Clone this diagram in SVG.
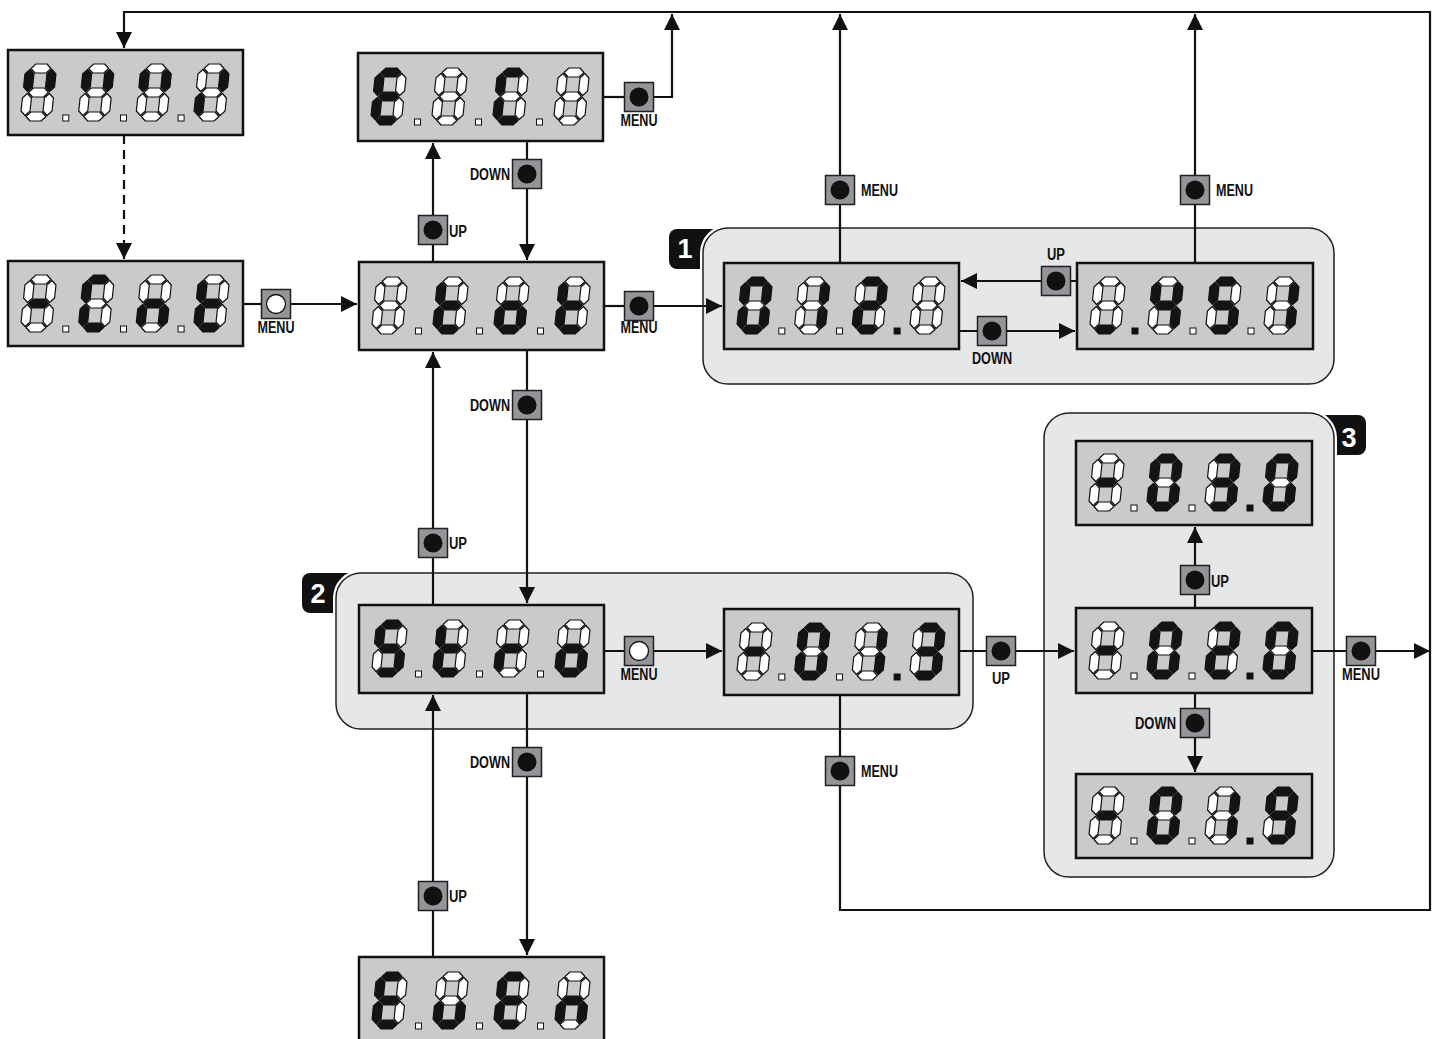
<svg xmlns="http://www.w3.org/2000/svg" xmlns:xlink="http://www.w3.org/1999/xlink" width="1437" height="1039" viewBox="0 0 1437 1039">
<style>
.disp{fill:#c9cacc;stroke:#111;stroke-width:2.5}
.panel{fill:#e6e7e8;stroke:#231f20;stroke-width:1.5}
.gap{fill:none;stroke:#fff;stroke-width:6}
.badge{fill:#111}
.bt{font-family:"Liberation Sans",Arial,sans-serif;font-weight:bold;font-size:27px;fill:#fff;text-anchor:middle}
.on{fill:#141414;stroke:#111;stroke-width:1.2;stroke-linejoin:round}
.off{fill:#fff;stroke:#111;stroke-width:1.2;stroke-linejoin:round}
.dpo{fill:#fff;stroke:#111;stroke-width:1}
.dpi{fill:#111;stroke:#111;stroke-width:1}
.btn{fill:#939598;stroke:#231f20;stroke-width:1.5}
.bk{fill:#111}
.wh{fill:#fff;stroke:#111;stroke-width:1.3}
.lbl{font-family:"Liberation Sans",Arial,sans-serif;font-weight:bold;font-size:16px;fill:#111}
.ln{fill:none;stroke:#111;stroke-width:2.2}
.dash{stroke-dasharray:9 6}
</style>
<defs>
<marker id="ah" markerUnits="userSpaceOnUse" viewBox="0 0 16 16" markerWidth="16" markerHeight="16" refX="16" refY="8" orient="auto"><path d="M0,0 L16,8 L0,16 z" fill="#111"/></marker>
<polygon id="sa" points="4.5,4.5 9,0 20,0 24.5,4.5 20,9 9,9"/>
<polygon id="sb" points="25.5,5.5 30,10 30,23 25.5,27.5 21,23 21,10"/>
<polygon id="sc" points="25.5,29.5 30,34 30,47 25.5,51.5 21,47 21,34"/>
<polygon id="sd" points="4.5,52.5 9,48 20,48 24.5,52.5 20,57 9,57"/>
<polygon id="se" points="3.5,29.5 8,34 8,47 3.5,51.5 -1,47 -1,34"/>
<polygon id="sf" points="3.5,5.5 8,10 8,23 3.5,27.5 -1,23 -1,10"/>
<polygon id="sg" points="4.5,28.5 9,24 20,24 24.5,28.5 20,33 9,33"/>
<g id="Gblank"><use href="#sa" class="off"/><use href="#sb" class="off"/><use href="#sc" class="off"/><use href="#sd" class="off"/><use href="#se" class="off"/><use href="#sf" class="off"/><use href="#sg" class="off"/></g>
<g id="Gdash"><use href="#sa" class="off"/><use href="#sb" class="off"/><use href="#sc" class="off"/><use href="#sd" class="off"/><use href="#se" class="off"/><use href="#sf" class="off"/><use href="#sg" class="on"/></g>
<g id="G0"><use href="#sa" class="on"/><use href="#sb" class="on"/><use href="#sc" class="on"/><use href="#sd" class="on"/><use href="#se" class="on"/><use href="#sf" class="on"/><use href="#sg" class="off"/></g>
<g id="G1"><use href="#sa" class="off"/><use href="#sb" class="on"/><use href="#sc" class="on"/><use href="#sd" class="off"/><use href="#se" class="off"/><use href="#sf" class="off"/><use href="#sg" class="off"/></g>
<g id="G2"><use href="#sa" class="on"/><use href="#sb" class="on"/><use href="#sc" class="off"/><use href="#sd" class="on"/><use href="#se" class="on"/><use href="#sf" class="off"/><use href="#sg" class="on"/></g>
<g id="G3"><use href="#sa" class="on"/><use href="#sb" class="on"/><use href="#sc" class="on"/><use href="#sd" class="on"/><use href="#se" class="off"/><use href="#sf" class="off"/><use href="#sg" class="on"/></g>
<g id="G4"><use href="#sa" class="off"/><use href="#sb" class="on"/><use href="#sc" class="on"/><use href="#sd" class="off"/><use href="#se" class="off"/><use href="#sf" class="on"/><use href="#sg" class="on"/></g>
<g id="G5"><use href="#sa" class="on"/><use href="#sb" class="off"/><use href="#sc" class="on"/><use href="#sd" class="on"/><use href="#se" class="off"/><use href="#sf" class="on"/><use href="#sg" class="on"/></g>
<g id="G9"><use href="#sa" class="on"/><use href="#sb" class="on"/><use href="#sc" class="on"/><use href="#sd" class="on"/><use href="#se" class="off"/><use href="#sf" class="on"/><use href="#sg" class="on"/></g>
<g id="GE"><use href="#sa" class="on"/><use href="#sb" class="off"/><use href="#sc" class="off"/><use href="#sd" class="on"/><use href="#se" class="on"/><use href="#sf" class="on"/><use href="#sg" class="on"/></g>
<g id="GC"><use href="#sa" class="on"/><use href="#sb" class="off"/><use href="#sc" class="off"/><use href="#sd" class="on"/><use href="#se" class="on"/><use href="#sf" class="on"/><use href="#sg" class="off"/></g>
<g id="Gt"><use href="#sa" class="off"/><use href="#sb" class="off"/><use href="#sc" class="off"/><use href="#sd" class="on"/><use href="#se" class="on"/><use href="#sf" class="on"/><use href="#sg" class="on"/></g>
<g id="Go"><use href="#sa" class="off"/><use href="#sb" class="off"/><use href="#sc" class="on"/><use href="#sd" class="on"/><use href="#se" class="on"/><use href="#sf" class="off"/><use href="#sg" class="on"/></g>
<g id="Gr"><use href="#sa" class="off"/><use href="#sb" class="off"/><use href="#sc" class="off"/><use href="#sd" class="off"/><use href="#se" class="on"/><use href="#sf" class="off"/><use href="#sg" class="on"/></g>
<g id="Gn"><use href="#sa" class="off"/><use href="#sb" class="off"/><use href="#sc" class="on"/><use href="#sd" class="off"/><use href="#se" class="on"/><use href="#sf" class="off"/><use href="#sg" class="on"/></g>
<g id="Gu"><use href="#sa" class="off"/><use href="#sb" class="off"/><use href="#sc" class="on"/><use href="#sd" class="on"/><use href="#se" class="on"/><use href="#sf" class="off"/><use href="#sg" class="off"/></g>
<g id="Gfb"><use href="#sa" class="off"/><use href="#sb" class="on"/><use href="#sc" class="off"/><use href="#sd" class="off"/><use href="#se" class="off"/><use href="#sf" class="on"/><use href="#sg" class="off"/></g>
<g id="Gbe"><use href="#sa" class="off"/><use href="#sb" class="on"/><use href="#sc" class="off"/><use href="#sd" class="off"/><use href="#se" class="on"/><use href="#sf" class="off"/><use href="#sg" class="off"/></g>
<g id="Gdd"><use href="#sa" class="off"/><use href="#sb" class="off"/><use href="#sc" class="off"/><use href="#sd" class="on"/><use href="#se" class="off"/><use href="#sf" class="off"/><use href="#sg" class="off"/></g>
</defs>

<g id="group-1">
<rect class="badge" x="669" y="229" width="56" height="40" rx="8"/>
<text class="bt" x="685" y="258">1</text>
<rect class="gap" x="703" y="228" width="631" height="156" rx="25"/>
<rect class="panel" x="703" y="228" width="631" height="156" rx="25"/>
</g>
<g id="group-2">
<rect class="badge" x="302" y="573" width="56" height="40" rx="8"/>
<text class="bt" x="318" y="603">2</text>
<rect class="gap" x="336" y="573" width="637" height="156" rx="25"/>
<rect class="panel" x="336" y="573" width="637" height="156" rx="25"/>
</g>
<g id="group-3">
<rect class="badge" x="1311" y="415" width="55" height="40" rx="8"/>
<text class="bt" x="1349" y="447">3</text>
<rect class="gap" x="1044" y="413" width="290" height="464" rx="25"/>
<rect class="panel" x="1044" y="413" width="290" height="464" rx="25"/>
</g>

<g id="connectors">
<path class="ln" d="M840,695 V910 H1430 V12 H124 V48" marker-end="url(#ah)"/>
<path class="ln dash" d="M124,135 V259" marker-end="url(#ah)"/>
<path class="ln" d="M603,97 H624"/>
<path class="ln" d="M654,97 H672 V14" marker-end="url(#ah)"/>
<path class="ln" d="M243,304 H262"/>
<path class="ln" d="M290,304 H357" marker-end="url(#ah)"/>
<path class="ln" d="M604,306 H624"/>
<path class="ln" d="M653,306 H722" marker-end="url(#ah)"/>
<path class="ln" d="M433,262 V143" marker-end="url(#ah)"/>
<path class="ln" d="M527,141 V260" marker-end="url(#ah)"/>
<path class="ln" d="M840,263 V14" marker-end="url(#ah)"/>
<path class="ln" d="M1195,263 V14" marker-end="url(#ah)"/>
<path class="ln" d="M1077,281 H961" marker-end="url(#ah)"/>
<path class="ln" d="M959,331 H1075" marker-end="url(#ah)"/>
<path class="ln" d="M527,350 V603" marker-end="url(#ah)"/>
<path class="ln" d="M433,605 V352" marker-end="url(#ah)"/>
<path class="ln" d="M604,651 H722" marker-end="url(#ah)"/>
<path class="ln" d="M959,651 H1074" marker-end="url(#ah)"/>
<path class="ln" d="M1195,608 V527" marker-end="url(#ah)"/>
<path class="ln" d="M1195,693 V772" marker-end="url(#ah)"/>
<path class="ln" d="M1312,651 H1430" marker-end="url(#ah)"/>
<path class="ln" d="M527,693 V955" marker-end="url(#ah)"/>
<path class="ln" d="M433,957 V695" marker-end="url(#ah)"/>
</g>

<g id="disp-1">
<rect class="disp" x="8" y="50" width="235" height="85"/>
<use href="#Gfb" transform="translate(27,64) skewX(-6)"/>
<use href="#Gfb" transform="translate(84.7,64) skewX(-6)"/>
<use href="#Gfb" transform="translate(142.3,64) skewX(-6)"/>
<use href="#Gbe" transform="translate(200,64) skewX(-6)"/>
<rect class="dpo" x="62.8" y="115" width="6" height="6"/><rect class="dpo" x="120.5" y="115" width="6" height="6"/><rect class="dpo" x="178.1" y="115" width="6" height="6"/>
</g>
<g id="disp-2">
<rect class="disp" x="358" y="53" width="245" height="88"/>
<use href="#GE" transform="translate(377,68) skewX(-6)"/>
<use href="#Gblank" transform="translate(438,68) skewX(-6)"/>
<use href="#GC" transform="translate(499,68) skewX(-6)"/>
<use href="#Gblank" transform="translate(560,68) skewX(-6)"/>
<rect class="dpo" x="414.5" y="119" width="6" height="6"/><rect class="dpo" x="475.5" y="119" width="6" height="6"/><rect class="dpo" x="536.5" y="119" width="6" height="6"/>
</g>
<g id="disp-3">
<rect class="disp" x="8" y="261" width="235" height="85"/>
<use href="#Gdash" transform="translate(27,275) skewX(-6)"/>
<use href="#GC" transform="translate(84.7,275) skewX(-6)"/>
<use href="#Gn" transform="translate(142.3,275) skewX(-6)"/>
<use href="#Gt" transform="translate(200,275) skewX(-6)"/>
<rect class="dpo" x="62.8" y="326" width="6" height="6"/><rect class="dpo" x="120.5" y="326" width="6" height="6"/><rect class="dpo" x="178.1" y="326" width="6" height="6"/>
</g>
<g id="disp-4">
<rect class="disp" x="359" y="262" width="245" height="88"/>
<use href="#Gblank" transform="translate(378,277) skewX(-6)"/>
<use href="#Gt" transform="translate(439,277) skewX(-6)"/>
<use href="#Go" transform="translate(500,277) skewX(-6)"/>
<use href="#Gt" transform="translate(561,277) skewX(-6)"/>
<rect class="dpo" x="415.5" y="328" width="6" height="6"/><rect class="dpo" x="476.5" y="328" width="6" height="6"/><rect class="dpo" x="537.5" y="328" width="6" height="6"/>
</g>
<g id="disp-5">
<rect class="disp" x="724" y="263" width="235" height="86"/>
<use href="#G0" transform="translate(743,277) skewX(-6)"/>
<use href="#G1" transform="translate(800.7,277) skewX(-6)"/>
<use href="#G2" transform="translate(858.3,277) skewX(-6)"/>
<use href="#Gblank" transform="translate(916,277) skewX(-6)"/>
<rect class="dpo" x="778.8" y="328" width="6" height="6"/><rect class="dpo" x="836.5" y="328" width="6" height="6"/><rect class="dpi" x="894.1" y="328" width="6" height="6"/>
</g>
<g id="disp-6">
<rect class="disp" x="1077" y="263" width="236" height="86"/>
<use href="#Gdd" transform="translate(1096,277) skewX(-6)"/>
<use href="#G4" transform="translate(1154,277) skewX(-6)"/>
<use href="#G5" transform="translate(1212,277) skewX(-6)"/>
<use href="#G1" transform="translate(1270,277) skewX(-6)"/>
<rect class="dpi" x="1132" y="328" width="6" height="6"/><rect class="dpo" x="1190" y="328" width="6" height="6"/><rect class="dpo" x="1248" y="328" width="6" height="6"/>
</g>
<g id="disp-7">
<rect class="disp" x="359" y="605" width="245" height="88"/>
<use href="#G5" transform="translate(378,620) skewX(-6)"/>
<use href="#Gt" transform="translate(439,620) skewX(-6)"/>
<use href="#Gr" transform="translate(500,620) skewX(-6)"/>
<use href="#Go" transform="translate(561,620) skewX(-6)"/>
<rect class="dpo" x="415.5" y="671" width="6" height="6"/><rect class="dpo" x="476.5" y="671" width="6" height="6"/><rect class="dpo" x="537.5" y="671" width="6" height="6"/>
</g>
<g id="disp-8">
<rect class="disp" x="724" y="609" width="235" height="86"/>
<use href="#Gdash" transform="translate(743,623) skewX(-6)"/>
<use href="#G0" transform="translate(800.7,623) skewX(-6)"/>
<use href="#G1" transform="translate(858.3,623) skewX(-6)"/>
<use href="#G3" transform="translate(916,623) skewX(-6)"/>
<rect class="dpo" x="778.8" y="674" width="6" height="6"/><rect class="dpo" x="836.5" y="674" width="6" height="6"/><rect class="dpi" x="894.1" y="674" width="6" height="6"/>
</g>
<g id="disp-9">
<rect class="disp" x="1076" y="441" width="236" height="84"/>
<use href="#Gdash" transform="translate(1095,454) skewX(-6)"/>
<use href="#G0" transform="translate(1153,454) skewX(-6)"/>
<use href="#G3" transform="translate(1211,454) skewX(-6)"/>
<use href="#G0" transform="translate(1269,454) skewX(-6)"/>
<rect class="dpo" x="1131" y="505" width="6" height="6"/><rect class="dpo" x="1189" y="505" width="6" height="6"/><rect class="dpi" x="1247" y="505" width="6" height="6"/>
</g>
<g id="disp-10">
<rect class="disp" x="1076" y="608" width="236" height="85"/>
<use href="#Gdash" transform="translate(1095,622) skewX(-6)"/>
<use href="#G0" transform="translate(1153,622) skewX(-6)"/>
<use href="#G2" transform="translate(1211,622) skewX(-6)"/>
<use href="#G0" transform="translate(1269,622) skewX(-6)"/>
<rect class="dpo" x="1131" y="673" width="6" height="6"/><rect class="dpo" x="1189" y="673" width="6" height="6"/><rect class="dpi" x="1247" y="673" width="6" height="6"/>
</g>
<g id="disp-11">
<rect class="disp" x="1076" y="774" width="236" height="84"/>
<use href="#Gdash" transform="translate(1095,787) skewX(-6)"/>
<use href="#G0" transform="translate(1153,787) skewX(-6)"/>
<use href="#G1" transform="translate(1211,787) skewX(-6)"/>
<use href="#G9" transform="translate(1269,787) skewX(-6)"/>
<rect class="dpo" x="1131" y="838" width="6" height="6"/><rect class="dpo" x="1189" y="838" width="6" height="6"/><rect class="dpi" x="1247" y="838" width="6" height="6"/>
</g>
<g id="disp-12">
<rect class="disp" x="359" y="957" width="245" height="88"/>
<use href="#GE" transform="translate(378,972) skewX(-6)"/>
<use href="#Gu" transform="translate(439,972) skewX(-6)"/>
<use href="#GE" transform="translate(500,972) skewX(-6)"/>
<use href="#Gn" transform="translate(561,972) skewX(-6)"/>
<rect class="dpo" x="415.5" y="1023" width="6" height="6"/><rect class="dpo" x="476.5" y="1023" width="6" height="6"/><rect class="dpo" x="537.5" y="1023" width="6" height="6"/>
</g>

<g id="buttons">
<g id="btn-esc-menu"><rect class="btn" x="624.5" y="82.5" width="29" height="29"/><circle class="bk" cx="639" cy="97" r="9.5"/><text class="lbl" x="620.5" y="126" textLength="37" lengthAdjust="spacingAndGlyphs">MENU</text></g>
<g id="btn-down-1"><rect class="btn" x="512.5" y="159.5" width="29" height="29"/><circle class="bk" cx="527" cy="174" r="9.5"/><text class="lbl" x="470" y="180" textLength="40" lengthAdjust="spacingAndGlyphs">DOWN</text></g>
<g id="btn-up-1"><rect class="btn" x="418.5" y="215.5" width="29" height="29"/><circle class="bk" cx="433" cy="230" r="9.5"/><text class="lbl" x="449" y="237" textLength="18" lengthAdjust="spacingAndGlyphs">UP</text></g>
<g id="btn-menu-g1a"><rect class="btn" x="825.5" y="175.5" width="29" height="29"/><circle class="bk" cx="840" cy="190" r="9.5"/><text class="lbl" x="861" y="196" textLength="37" lengthAdjust="spacingAndGlyphs">MENU</text></g>
<g id="btn-menu-g1b"><rect class="btn" x="1180.5" y="175.5" width="29" height="29"/><circle class="bk" cx="1195" cy="190" r="9.5"/><text class="lbl" x="1216" y="196" textLength="37" lengthAdjust="spacingAndGlyphs">MENU</text></g>
<g id="btn-menu-rcnt"><rect class="btn" x="261.5" y="289.5" width="29" height="29"/><circle class="wh" cx="276" cy="304" r="9.5"/><text class="lbl" x="257.5" y="333" textLength="37" lengthAdjust="spacingAndGlyphs">MENU</text></g>
<g id="btn-menu-main"><rect class="btn" x="624.5" y="291.5" width="29" height="29"/><circle class="bk" cx="639" cy="306" r="9.5"/><text class="lbl" x="620.5" y="333" textLength="37" lengthAdjust="spacingAndGlyphs">MENU</text></g>
<g id="btn-up-g1"><rect class="btn" x="1041.5" y="266.5" width="29" height="29"/><circle class="bk" cx="1056" cy="281" r="9.5"/><text class="lbl" x="1047" y="260" textLength="18" lengthAdjust="spacingAndGlyphs">UP</text></g>
<g id="btn-down-g1"><rect class="btn" x="977.5" y="316.5" width="29" height="29"/><circle class="bk" cx="992" cy="331" r="9.5"/><text class="lbl" x="972" y="364" textLength="40" lengthAdjust="spacingAndGlyphs">DOWN</text></g>
<g id="btn-down-2"><rect class="btn" x="512.5" y="390.5" width="29" height="29"/><circle class="bk" cx="527" cy="405" r="9.5"/><text class="lbl" x="470" y="411" textLength="40" lengthAdjust="spacingAndGlyphs">DOWN</text></g>
<g id="btn-up-2"><rect class="btn" x="418.5" y="528.5" width="29" height="29"/><circle class="bk" cx="433" cy="543" r="9.5"/><text class="lbl" x="449" y="549" textLength="18" lengthAdjust="spacingAndGlyphs">UP</text></g>
<g id="btn-menu-g2"><rect class="btn" x="624.5" y="636.5" width="29" height="29"/><circle class="wh" cx="639" cy="651" r="9.5"/><text class="lbl" x="620.5" y="680" textLength="37" lengthAdjust="spacingAndGlyphs">MENU</text></g>
<g id="btn-up-g2"><rect class="btn" x="986.5" y="636.5" width="29" height="29"/><circle class="bk" cx="1001" cy="651" r="9.5"/><text class="lbl" x="992" y="684" textLength="18" lengthAdjust="spacingAndGlyphs">UP</text></g>
<g id="btn-up-g3"><rect class="btn" x="1180.5" y="565.5" width="29" height="29"/><circle class="bk" cx="1195" cy="580" r="9.5"/><text class="lbl" x="1211" y="587" textLength="18" lengthAdjust="spacingAndGlyphs">UP</text></g>
<g id="btn-menu-g3"><rect class="btn" x="1346.5" y="636.5" width="29" height="29"/><circle class="bk" cx="1361" cy="651" r="9.5"/><text class="lbl" x="1342" y="680" textLength="38" lengthAdjust="spacingAndGlyphs">MENU</text></g>
<g id="btn-down-g3"><rect class="btn" x="1180.5" y="708.5" width="29" height="29"/><circle class="bk" cx="1195" cy="723" r="9.5"/><text class="lbl" x="1135" y="729" textLength="41" lengthAdjust="spacingAndGlyphs">DOWN</text></g>
<g id="btn-down-3"><rect class="btn" x="512.5" y="747.5" width="29" height="29"/><circle class="bk" cx="527" cy="762" r="9.5"/><text class="lbl" x="470" y="768" textLength="40" lengthAdjust="spacingAndGlyphs">DOWN</text></g>
<g id="btn-menu-g2b"><rect class="btn" x="825.5" y="756.5" width="29" height="29"/><circle class="bk" cx="840" cy="771" r="9.5"/><text class="lbl" x="861" y="777" textLength="37" lengthAdjust="spacingAndGlyphs">MENU</text></g>
<g id="btn-up-3"><rect class="btn" x="418.5" y="881.5" width="29" height="29"/><circle class="bk" cx="433" cy="896" r="9.5"/><text class="lbl" x="449" y="902" textLength="18" lengthAdjust="spacingAndGlyphs">UP</text></g>
</g>
</svg>
